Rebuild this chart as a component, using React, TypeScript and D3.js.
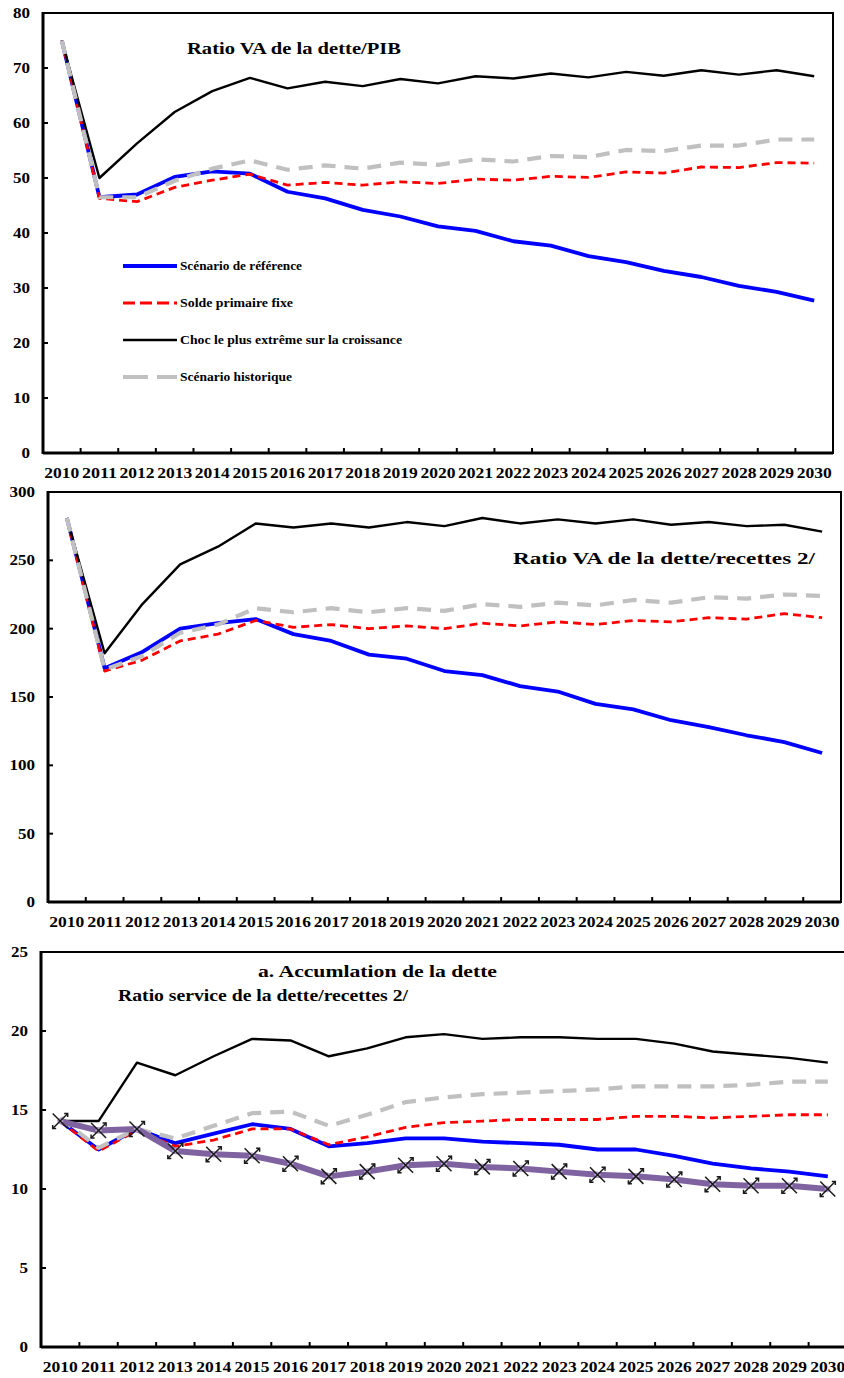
import React from 'react';
import * as d3 from 'd3';

const years = d3.range(2010, 2031).map(String);

// Ratio VA de la dette/PIB
const p1Base = [75, 46.5, 47, 50.2, 51.2, 50.8, 47.5, 46.3, 44.2, 43, 41.2, 40.4, 38.5, 37.7, 35.8, 34.7, 33.1, 32, 30.4, 29.3, 27.7];
const p1Fixe = [75, 46.3, 45.7, 48.3, 49.6, 50.7, 48.7, 49.2, 48.7, 49.3, 49, 49.8, 49.6, 50.3, 50.1, 51.1, 50.9, 52, 51.9, 52.8, 52.7];
const p1Choc = [75, 50, 56.3, 62, 65.8, 68.2, 66.3, 67.5, 66.7, 68, 67.2, 68.5, 68.1, 69, 68.3, 69.3, 68.6, 69.6, 68.8, 69.6, 68.5];
const p1Hist = [75, 46.5, 46.5, 49.5, 51.7, 53.2, 51.5, 52.3, 51.7, 52.8, 52.4, 53.4, 53, 54, 53.8, 55.1, 54.9, 55.9, 55.9, 57, 57];

// Ratio VA de la dette/recettes
const p2Base = [281, 171, 183, 200, 204, 207, 196, 191, 181, 178, 169, 166, 158, 154, 145, 141, 133, 128, 122, 117, 109];
const p2Fixe = [281, 169, 177, 191, 196, 206, 201, 203, 200, 202, 200, 204, 202, 205, 203, 206, 205, 208, 207, 211, 208];
const p2Choc = [281, 182, 218, 247, 260, 277, 274, 277, 274, 278, 275, 281, 277, 280, 277, 280, 276, 278, 275, 276, 271];
const p2Hist = [281, 170, 180, 197, 203, 215, 212, 215, 212, 215, 213, 218, 216, 219, 217, 221, 219, 223, 222, 225, 224];

// Ratio service de la dette/recettes
const p3Base = [14.3, 12.5, 13.8, 12.9, 13.5, 14.1, 13.8, 12.7, 12.9, 13.2, 13.2, 13.0, 12.9, 12.8, 12.5, 12.5, 12.1, 11.6, 11.3, 11.1, 10.8];
const p3Fixe = [14.3, 12.4, 13.7, 12.7, 13.1, 13.8, 13.8, 12.8, 13.3, 13.9, 14.2, 14.3, 14.4, 14.4, 14.4, 14.6, 14.6, 14.5, 14.6, 14.7, 14.7];
const p3Choc = [14.3, 14.3, 18, 17.2, 18.4, 19.5, 19.4, 18.4, 18.9, 19.6, 19.8, 19.5, 19.6, 19.6, 19.5, 19.5, 19.2, 18.7, 18.5, 18.3, 18.0];
const p3Hist = [14.5, 12.6, 13.8, 13.2, 14.0, 14.8, 14.9, 14.0, 14.7, 15.5, 15.8, 16.0, 16.1, 16.2, 16.3, 16.5, 16.5, 16.5, 16.6, 16.8, 16.8];
const p3Accum = [14.3, 13.7, 13.8, 12.4, 12.2, 12.1, 11.6, 10.8, 11.1, 11.5, 11.6, 11.4, 11.3, 11.1, 10.9, 10.8, 10.6, 10.3, 10.2, 10.2, 10.0];

const legendLabels = [
  'Scénario de référence',
  'Solde primaire fixe',
  'Choc le plus extrême sur la croissance',
  'Scénario historique',
];

const styles = [
  { stroke: '#0000ff', width: 3.8, dash: '' },
  { stroke: '#ff0000', width: 2.8, dash: '8 5' },
  { stroke: '#000000', width: 2.4, dash: '' },
  { stroke: '#c0c0c0', width: 4.2, dash: '14 9' },
];
const legendDash = ['', '12 5', '', '25 9'];

const FONT = '"Liberation Serif", "Times New Roman", serif';

type PanelProps = {
  left: number;
  right: number;
  top: number;
  bottom: number;
  yMax: number;
  yStep: number;
  series: number[][];
  accum?: number[];
  titles: { text: string; x: number; y: number; w: number }[];
  legend?: boolean;
};

const Panel = ({ left, right, top, bottom, yMax, yStep, series, accum, titles, legend }: PanelProps) => {
  const x = d3.scaleBand<string>().domain(years).range([left, right]);
  const y = d3.scaleLinear().domain([0, yMax]).range([bottom, top]);
  const cx = (d: string) => (x(d) as number) + x.bandwidth() / 2;
  const line = d3
    .line<number>()
    .x((_, i) => cx(years[i]))
    .y((d) => y(d));
  const yTicks = d3.range(0, yMax + yStep / 2, yStep);

  return (
    <g>
      {/* cadre */}
      <rect x={left} y={top} width={right - left} height={bottom - top} fill="none" stroke="#000" strokeWidth={2} />
      <line x1={left} x2={right} y1={bottom} y2={bottom} stroke="#000" strokeWidth={3} />
      <line x1={left} x2={left} y1={top - 1} y2={bottom + 1} stroke="#000" strokeWidth={3} />

      {yTicks.map((t) => (
        <g key={`y${t}`}>
          <line x1={left} x2={left + 5} y1={y(t)} y2={y(t)} stroke="#000" strokeWidth={2} />
          <text
            x={left - 13}
            y={y(t) + 5}
            textAnchor="end"
            fontFamily={FONT}
            fontWeight="bold"
            fontSize={14}
            textLength={String(t).length * 8.5}
            lengthAdjust="spacingAndGlyphs"
          >
            {t}
          </text>
        </g>
      ))}

      {years.slice(1).map((yr) => (
        <line key={`t${yr}`} x1={x(yr)} x2={x(yr)} y1={bottom} y2={bottom - 5} stroke="#000" strokeWidth={2} />
      ))}
      {years.map((yr) => (
        <text
          key={`l${yr}`}
          x={cx(yr)}
          y={bottom + 25}
          textAnchor="middle"
          fontFamily={FONT}
          fontWeight="bold"
          fontSize={14}
          textLength={35}
          lengthAdjust="spacingAndGlyphs"
        >
          {yr}
        </text>
      ))}

      {titles.map((t) => (
        <text
          key={t.text}
          x={t.x}
          y={t.y}
          fontFamily={FONT}
          fontWeight="bold"
          fontSize={17}
          textLength={t.w}
          lengthAdjust="spacingAndGlyphs"
        >
          {t.text}
        </text>
      ))}

      {series.map((s, i) => (
        <path
          key={`s${i}`}
          d={line(s) || ''}
          fill="none"
          stroke={styles[i].stroke}
          strokeWidth={styles[i].width}
          strokeDasharray={styles[i].dash}
          strokeLinejoin="round"
        />
      ))}

      {accum && (
        <g>
          <path d={line(accum) || ''} fill="none" stroke="#7f63a1" strokeWidth={6} strokeLinejoin="round" />
          {accum.map((v, i) => {
            const px = cx(years[i]);
            const py = y(v);
            const r = 7.5;
            return (
              <g key={`m${i}`} transform={`translate(${px},${py})`}>
                <rect x={-2.5} y={-2.5} width={5} height={5} fill="#b9a8d6" transform="rotate(45)" />
                <line x1={-r} y1={-r} x2={r} y2={r} stroke="#1a1a1a" strokeWidth={1.5} />
                <line x1={-r} y1={r} x2={r} y2={-r} stroke="#1a1a1a" strokeWidth={1.5} />
                <path d={`M${r - 3.5},${-r} L${r},${-r} L${r},${-r + 3.5}`} fill="none" stroke="#1a1a1a" strokeWidth={1.5} />
                <path d={`M${-r + 3.5},${r} L${-r},${r} L${-r},${r - 3.5}`} fill="none" stroke="#1a1a1a" strokeWidth={1.5} />
              </g>
            );
          })}
        </g>
      )}

      {legend &&
        legendLabels.map((lab, i) => {
          const ly = 266 + i * 37;
          return (
            <g key={lab}>
              <line
                x1={123}
                x2={177}
                y1={ly}
                y2={ly}
                stroke={styles[i].stroke}
                strokeWidth={styles[i].width}
                strokeDasharray={legendDash[i]}
              />
              <text
                x={180}
                y={ly + 4}
                fontFamily={FONT}
                fontWeight="bold"
                fontSize={12}
                textLength={[122, 113, 222, 112][i]}
                lengthAdjust="spacingAndGlyphs"
              >
                {lab}
              </text>
            </g>
          );
        })}
    </g>
  );
};

const App = () => (
  <svg
    width={844}
    height={1378}
    viewBox="0 0 844 1378"
    style={{ position: 'absolute', left: 0, top: 0, background: '#fff' }}
  >
    <rect width={844} height={1378} fill="#fff" />
    <Panel
      left={43}
      right={833}
      top={13}
      bottom={453}
      yMax={80}
      yStep={10}
      series={[p1Base, p1Fixe, p1Choc, p1Hist]}
      titles={[{ text: 'Ratio VA  de  la dette/PIB', x: 187, y: 54, w: 214 }]}
      legend
    />
    <Panel
      left={48}
      right={841}
      top={492}
      bottom={902}
      yMax={300}
      yStep={50}
      series={[p2Base, p2Fixe, p2Choc, p2Hist]}
      titles={[{ text: 'Ratio VA  de  la dette/recettes  2/', x: 513, y: 564, w: 302 }]}
    />
    <Panel
      left={41}
      right={847}
      top={952}
      bottom={1347}
      yMax={25}
      yStep={5}
      series={[p3Base, p3Fixe, p3Choc, p3Hist]}
      accum={p3Accum}
      titles={[
        { text: 'a. Accumlation de la dette', x: 258, y: 977, w: 239 },
        { text: 'Ratio service de la dette/recettes  2/', x: 118, y: 1001, w: 290 },
      ]}
    />
  </svg>
);

export default App;
